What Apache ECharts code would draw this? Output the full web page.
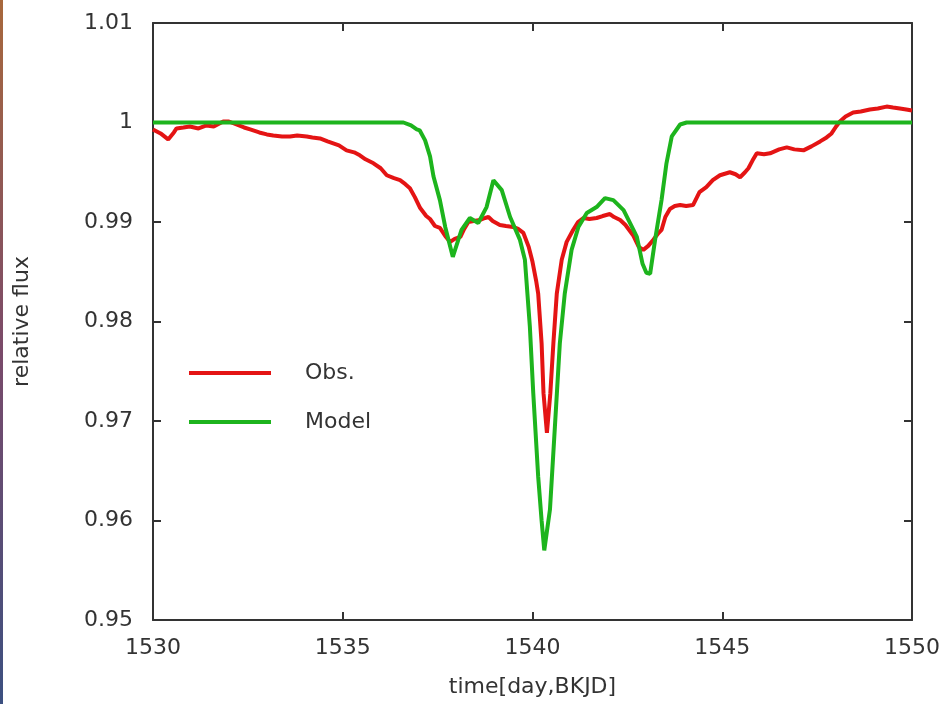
<!DOCTYPE html>
<html>
<head>
<meta charset="utf-8">
<script src="https://cdn.jsdelivr.net/npm/echarts@6/dist/echarts.min.js"></script>
<style>
  html, body { margin: 0; padding: 0; background: #fff; }
  #main { width: 946px; height: 704px; }
</style>
</head>
<body>
<div id="main"></div>
<script>
var obsTime = [1530.00, 1530.20, 1530.40, 1530.55, 1530.62, 1530.80, 1530.97, 1531.20, 1531.41, 1531.60,
  1531.85, 1532.00, 1532.20, 1532.40, 1532.56, 1532.80, 1533.00, 1533.17, 1533.40, 1533.61,
  1533.80, 1534.05, 1534.20, 1534.40, 1534.60, 1534.75, 1534.90, 1535.10, 1535.30, 1535.45,
  1535.60, 1535.81, 1536.00, 1536.16, 1536.35, 1536.51, 1536.65, 1536.77, 1536.90, 1537.04,
  1537.20, 1537.30, 1537.43, 1537.56, 1537.70, 1537.83, 1537.95, 1538.10, 1538.20, 1538.31,
  1538.45, 1538.62, 1538.75, 1538.84, 1538.95, 1539.14, 1539.30, 1539.49, 1539.62, 1539.76,
  1539.90, 1540.00, 1540.10, 1540.15, 1540.24, 1540.29, 1540.38, 1540.47, 1540.55, 1540.64,
  1540.77, 1540.90, 1541.07, 1541.20, 1541.34, 1541.50, 1541.69, 1541.85, 1542.04, 1542.15,
  1542.31, 1542.45, 1542.66, 1542.80, 1542.92, 1543.05, 1543.18, 1543.30, 1543.40, 1543.50,
  1543.62, 1543.75, 1543.89, 1544.05, 1544.23, 1544.40, 1544.58, 1544.75, 1544.94, 1545.20,
  1545.35, 1545.47, 1545.60, 1545.69, 1545.80, 1545.91, 1546.10, 1546.26, 1546.50, 1546.70,
  1546.90, 1547.14, 1547.35, 1547.58, 1547.75, 1547.88, 1548.00, 1548.10, 1548.25, 1548.45,
  1548.65, 1548.89, 1549.10, 1549.33, 1549.50, 1549.68, 1549.85, 1550.00];
var obsFlux = [0.9993, 0.9989, 0.9983, 0.9990, 0.9994, 0.9995, 0.9996, 0.9994, 0.9997, 0.9996,
  1.0001, 1.0001, 0.9998, 0.9995, 0.9993, 0.9990, 0.9988, 0.9987, 0.9986, 0.9986,
  0.9987, 0.9986, 0.9985, 0.9984, 0.9981, 0.9979, 0.9977, 0.9972, 0.9970, 0.9967,
  0.9963, 0.9959, 0.9954, 0.9947, 0.9944, 0.9942, 0.9938, 0.9934, 0.9925, 0.9914,
  0.9906, 0.9903, 0.9896, 0.9894, 0.9886, 0.9880, 0.9883, 0.9885, 0.9893, 0.9900,
  0.9901, 0.9902, 0.9904, 0.9905, 0.9901, 0.9897, 0.9896, 0.9895, 0.9893, 0.9889,
  0.9875, 0.9860, 0.9840, 0.9828, 0.9778, 0.9728, 0.9688, 0.9728, 0.9778, 0.9828,
  0.9862, 0.9880, 0.9892, 0.9900, 0.9904, 0.9903, 0.9904, 0.9906, 0.9908, 0.9905,
  0.9902, 0.9897, 0.9886, 0.9875, 0.9872, 0.9876, 0.9882, 0.9888, 0.9892, 0.9905,
  0.9913, 0.9916, 0.9917, 0.9916, 0.9917, 0.9930, 0.9935, 0.9942, 0.9947, 0.9950,
  0.9948, 0.9945, 0.9950, 0.9954, 0.9962, 0.9969, 0.9968, 0.9969, 0.9973, 0.9975,
  0.9973, 0.9972, 0.9976, 0.9981, 0.9985, 0.9989, 0.9996, 1.0001, 1.0006, 1.0010,
  1.0011, 1.0013, 1.0014, 1.0016, 1.0015, 1.0014, 1.0013, 1.0012];

// model curve (green)
var modelTime = [1530.00, 1536.60, 1536.80, 1536.95, 1537.03, 1537.17, 1537.30, 1537.39, 1537.56, 1537.70,
  1537.90, 1538.13, 1538.35, 1538.57, 1538.79, 1538.97, 1539.19, 1539.41, 1539.67, 1539.80,
  1539.93, 1540.02, 1540.15, 1540.24, 1540.31, 1540.46, 1540.59, 1540.72, 1540.85, 1541.03,
  1541.21, 1541.43, 1541.69, 1541.91, 1542.13, 1542.40, 1542.66, 1542.75, 1542.90, 1543.00,
  1543.10, 1543.23, 1543.40, 1543.53, 1543.67, 1543.89, 1544.06, 1550.00];
var modelFlux = [1.0000, 1.0000, 0.9997, 0.9993, 0.9992, 0.9982, 0.9966, 0.9946, 0.9922, 0.9895,
  0.9865, 0.9892, 0.9904, 0.9899, 0.9915, 0.9942, 0.9932, 0.9905, 0.9882, 0.9862,
  0.9795, 0.9728, 0.9644, 0.9600, 0.9570, 0.9611, 0.9694, 0.9778, 0.9828, 0.9872,
  0.9895, 0.9909, 0.9915, 0.9924, 0.9922, 0.9912, 0.9892, 0.9885, 0.9858, 0.9849,
  0.9848, 0.9882, 0.9922, 0.9959, 0.9986, 0.9998, 1.0000, 1.0000];

var xTicks = [1530, 1550, 5];
var yTicks = [0.95, 1.01, 0.01];

var seriesNames = ['Obs.', 'Model'];
var seriesColors = ['#e41414', '#1db41d'];

/**
 * 两个数组拼成 [x, y] 点
 */
var pairs = function(xs, ys){
	var result = [];
	for(var i = 0, j = xs.length; i < j; i++){
		result.push([xs[i], ys[i]]);
	}
	return result;
};

var FONT = 'DejaVu Sans';
var INK = '#333';

// 画框，刻度朝里
var frameAxis = function(extra){
	return Object.assign({
		type: 'value',
		axisLine: { show: true, onZero: false, lineStyle: { color: INK, width: 2 } },
		axisTick: { show: true, inside: true, length: 8, lineStyle: { color: INK, width: 2 } },
		axisLabel: { show: false },
		splitLine: { show: false }
	}, extra);
};

var legendItem = function(name, top){
	return {
		data: [name],
		left: 189,
		top: top,
		padding: 0,
		icon: 'rect',
		itemWidth: 82,
		itemHeight: 4,
		textStyle: { fontFamily: FONT, fontSize: 22, color: INK, lineHeight: 24, padding: [0, 0, 0, 29] }
	};
};

var option = {
	animation: false,
	backgroundColor: '#fff',
	grid: { left: 153, right: 34, top: 23, bottom: 84 },
	legend: [legendItem(seriesNames[0], 361), legendItem(seriesNames[1], 410)],
	xAxis: [
		frameAxis({
			position: 'bottom',
			min: xTicks[0], max: xTicks[1], interval: xTicks[2],
			axisLabel: {
				show: true, fontFamily: FONT, fontSize: 22, color: INK, margin: 17,
				formatter: function(v){ return String(v); }
			},
			name: 'time[day,BKJD]',
			nameLocation: 'middle',
			nameGap: 56,
			nameTextStyle: { fontFamily: FONT, fontSize: 22, color: INK }
		}),
		frameAxis({ position: 'top', min: xTicks[0], max: xTicks[1], interval: xTicks[2] })
	],
	yAxis: [
		frameAxis({
			position: 'left',
			min: yTicks[0], max: yTicks[1], interval: yTicks[2],
			axisLabel: {
				show: true, fontFamily: FONT, fontSize: 22, color: INK, margin: 20,
				formatter: function(v){ return String(Number(v.toFixed(2))); }
			},
			name: 'relative flux',
			nameLocation: 'middle',
			nameGap: 120,
			nameTextStyle: { fontFamily: FONT, fontSize: 22, color: INK }
		}),
		frameAxis({ position: 'right', min: yTicks[0], max: yTicks[1], interval: yTicks[2] })
	],
	series: [
		{
			name: seriesNames[0], type: 'line', data: pairs(obsTime, obsFlux),
			showSymbol: false, color: seriesColors[0],
			lineStyle: { width: 4, color: seriesColors[0] }
		},
		{
			name: seriesNames[1], type: 'line', data: pairs(modelTime, modelFlux),
			showSymbol: false, color: seriesColors[1],
			lineStyle: { width: 4, color: seriesColors[1] }
		}
	],
	graphic: [{
		// 截图左边那条彩色边
		type: 'rect',
		left: 0, top: 0,
		shape: { width: 3, height: 704 },
		style: {
			fill: new echarts.graphic.LinearGradient(0, 0, 0, 1, [
				{ offset: 0, color: '#a8683c' },
				{ offset: 0.5, color: '#7a4a6a' },
				{ offset: 1, color: '#3c5080' }
			])
		},
		silent: true
	}]
};

var myChart = echarts.init(document.getElementById('main'));
myChart.setOption(option);
</script>
</body>
</html>
